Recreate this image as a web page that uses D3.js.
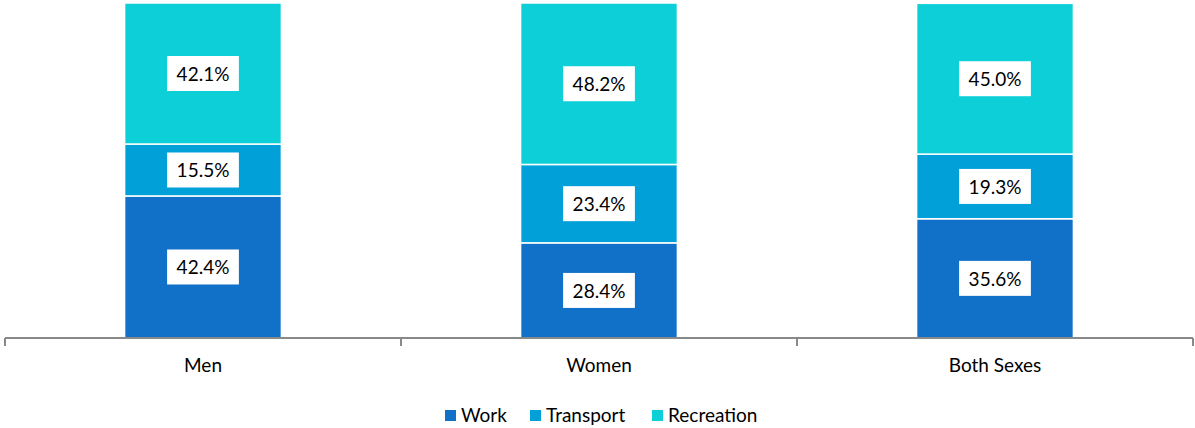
<!DOCTYPE html>
<html>
<head>
<meta charset="utf-8">
<script src="https://cdn.jsdelivr.net/npm/d3@7"></script>
<style>
  body { margin: 0; background: #fff; }
  text { font-family: Lato, "Open Sans", sans-serif; fill: #000; }
</style>
</head>
<body>
<script>
'use strict';

// chart values
const categories = ["Men", "Women", "Both Sexes"];
const seriesNames = ["Work", "Transport", "Recreation"];
const work = [42.4, 28.4, 35.6];
const transport = [15.5, 23.4, 19.3];
const recreation = [42.1, 48.2, 45.0];
const colors = ["#1170c8", "#01a0d8", "#0ccfd8"];

const m = { width: 1195, height: 428, left: 5, right: 1193, top: 3, axisY: 338 };

const svg = d3.select('body')
  .append('svg')
  .attr('width', m.width)
  .attr('height', m.height);

// build rows for the stack
const rows = categories.map((c, i) => ({
  cat: c, Work: work[i], Transport: transport[i], Recreation: recreation[i]
}));
const stacked = d3.stack().keys(seriesNames)(rows);

const x = d3.scaleBand()
  .domain(categories)
  .range([m.left, m.right])
  .paddingInner(0.604)
  .paddingOuter(0.302);

const y = d3.scaleLinear()
  .domain([0, 100])
  .range([m.axisY, m.top]);

// bars
const layers = svg.selectAll('.layer')
  .data(stacked)
  .enter()
  .append('g')
  .attr('fill', (d, i) => colors[i]);

layers.selectAll('rect')
  .data(d => d)
  .enter()
  .append('rect')
  .attr('x', d => x(d.data.cat))
  .attr('y', d => y(d[1]))
  .attr('width', x.bandwidth())
  .attr('height', d => y(d[0]) - y(d[1]))
  .attr('stroke', '#fff')
  .attr('stroke-width', 1.5);

// data labels in white boxes
stacked.forEach((layer) => {
  layer.forEach((d) => {
    const cx = x(d.data.cat) + x.bandwidth() / 2;
    const cy = (y(d[0]) + y(d[1])) / 2;
    const g = svg.append('g');
    const box = g.append('rect').attr('fill', '#fff');
    const t = g.append('text')
      .attr('x', cx)
      .attr('y', cy)
      .attr('text-anchor', 'middle')
      .attr('dominant-baseline', 'central')
      .style('font-size', '19px')
      .text((d[1] - d[0]).toFixed(1) + '%');
    const w = t.node().getComputedTextLength() + 19;
    box.attr('x', cx - w / 2)
      .attr('y', cy - 17.5)
      .attr('width', w)
      .attr('height', 35);
  });
});

// x axis
const xAxis = d3.scaleLinear().domain([0, categories.length]).range([m.left, m.right]);
svg.append('line')
  .attr('x1', m.left).attr('x2', m.right)
  .attr('y1', m.axisY).attr('y2', m.axisY)
  .attr('stroke', '#898989').attr('stroke-width', 2);
svg.selectAll('.tick')
  .data(d3.range(categories.length + 1))
  .enter()
  .append('line')
  .attr('x1', d => xAxis(d)).attr('x2', d => xAxis(d))
  .attr('y1', m.axisY).attr('y2', m.axisY + 8)
  .attr('stroke', '#898989').attr('stroke-width', 2);

svg.selectAll('.cat')
  .data(categories)
  .enter()
  .append('text')
  .attr('x', d => x(d) + x.bandwidth() / 2)
  .attr('y', 372)
  .attr('text-anchor', 'middle')
  .style('font-size', '19px')
  .text(d => d);

// legend
const legendX = [445, 530, 652];
seriesNames.forEach((s, i) => {
  svg.append('rect')
    .attr('x', legendX[i]).attr('y', 410)
    .attr('width', 11).attr('height', 11)
    .attr('fill', colors[i]);
  svg.append('text')
    .attr('x', legendX[i] + 16).attr('y', 422)
    .style('font-size', '19px')
    .text(s);
});
</script>
</body>
</html>
